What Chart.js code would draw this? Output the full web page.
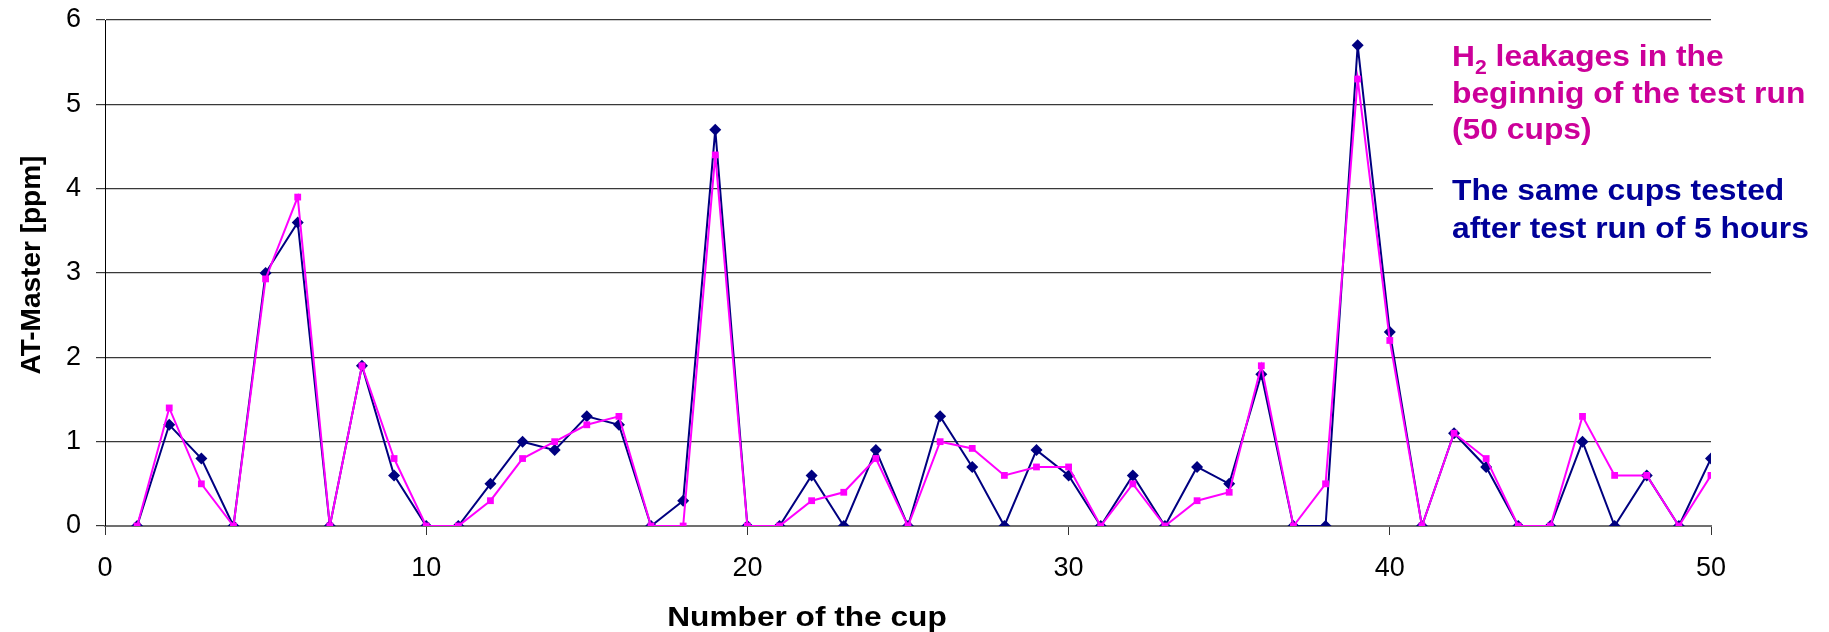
<!DOCTYPE html>
<html>
<head>
<meta charset="utf-8">
<script src="https://cdn.jsdelivr.net/npm/chart.js"></script>
<style>
  html, body { margin: 0; padding: 0; background: #fff; }
  #wrap { width: 1829px; height: 632px; }
</style>
</head>
<body>
<div id="wrap"><canvas id="c" width="1829" height="632"></canvas></div>
<script>
// ---- data ----
const cups = [1,2,3,4,5,6,7,8,9,10,11,12,13,14,15,16,17,18,19,20,21,22,23,24,25,26,27,28,29,30,31,32,33,34,35,36,37,38,39,40,41,42,43,44,45,46,47,48,49,50];
const beginning = [0,1.4,0.5,0,2.93,3.9,0,1.9,0.8,0,0,0.3,0.8,1.0,1.2,1.3,0,0,4.4,0,0,0.3,0.4,0.8,0,1.0,0.92,0.6,0.7,0.7,0,0.5,0,0.3,0.4,1.9,0,0.5,5.3,2.2,0,1.1,0.8,0,0,1.3,0.6,0.6,0,0.6];
const after5h = [0,1.2,0.8,0,3.0,3.6,0,1.9,0.6,0,0,0.5,1.0,0.9,1.3,1.2,0,0.3,4.7,0,0,0.6,0,0.9,0,1.3,0.7,0,0.9,0.6,0,0.6,0,0.7,0.5,1.8,0,0,5.7,2.3,0,1.1,0.7,0,0,1.0,0,0.6,0,0.8];
const xTicks = [0,10,20,30,40,50];
const yTicks = [0,1,2,3,4,5,6];
const xTitle = 'Number of the cup';
const yTitle = 'AT-Master [ppm]';
const legendMagenta = ['H', '2', ' leakages in the', 'beginnig of the test run', '(50 cups)'];
const legendBlue = ['The same cups tested', 'after test run of 5 hours'];

const toPts = (arr) => cups.map((c, i) => ({x: c, y: arr[i]}));

const FONT = '"Liberation Sans", Arial, sans-serif';

const overlay = {
  id: 'overlay',
  afterDraw(chart) {
    const ctx = chart.ctx;
    ctx.save();
    // white box behind the legend text (covers gridlines)
    ctx.fillStyle = '#fff';
    ctx.fillRect(1433, 32, 396, 215);

    ctx.textBaseline = 'alphabetic';
    ctx.textAlign = 'left';
    const sx = 1.06;
    const drawText = (txt, x, y, font, color) => {
      ctx.save();
      ctx.font = font;
      ctx.fillStyle = color;
      ctx.translate(x, y);
      ctx.scale(sx, 1);
      ctx.fillText(txt, 0, 0);
      const w = ctx.measureText(txt).width * sx;
      ctx.restore();
      return w;
    };
    const mag = '#CC0099';
    const blu = '#000099';
    const big = 'bold 30px ' + FONT;
    const small = 'bold 20px ' + FONT;
    let x = 1452;
    x += drawText(legendMagenta[0], x, 66, big, mag);
    x += drawText(legendMagenta[1], x, 74, small, mag);
    drawText(legendMagenta[2], x, 66, big, mag);
    drawText(legendMagenta[3], 1452, 103, big, mag);
    drawText(legendMagenta[4], 1452, 139, big, mag);
    drawText(legendBlue[0], 1452, 200, big, blu);
    drawText(legendBlue[1], 1452, 238, big, blu);

    // x axis title
    ctx.save();
    ctx.font = 'bold 28px ' + FONT;
    ctx.fillStyle = '#000';
    ctx.textAlign = 'center';
    ctx.translate(807, 626);
    ctx.scale(1.13, 1);
    ctx.fillText(xTitle, 0, 0);
    ctx.restore();

    // y axis title
    ctx.save();
    ctx.font = 'bold 28px ' + FONT;
    ctx.fillStyle = '#000';
    ctx.textAlign = 'center';
    ctx.translate(40, 265);
    ctx.rotate(-Math.PI / 2);
    ctx.fillText(yTitle, 0, 0);
    ctx.restore();

    ctx.restore();
  }
};

new Chart(document.getElementById('c'), {
  type: 'scatter',
  data: {
    datasets: [
      {
        label: 'beginning',
        data: toPts(beginning),
        showLine: true,
        borderColor: '#FF00FF',
        backgroundColor: '#FF00FF',
        borderWidth: 2,
        pointStyle: 'rect',
        pointRadius: 4.8,
        pointBorderWidth: 0,
        pointHoverRadius: 4.8
      },
      {
        label: 'after 5 hours',
        data: toPts(after5h),
        showLine: true,
        borderColor: '#000080',
        backgroundColor: '#000080',
        borderWidth: 2,
        pointStyle: 'rectRot',
        pointRadius: 6,
        pointBorderWidth: 0,
        pointHoverRadius: 6
      }
    ]
  },
  options: {
    responsive: false,
    animation: false,
    devicePixelRatio: 1,
    layout: { padding: { top: 20, right: 118, left: 0, bottom: 0 } },
    plugins: {
      legend: { display: false },
      tooltip: { enabled: false }
    },
    scales: {
      x: {
        type: 'linear',
        min: 0, max: 50,
        afterBuildTicks: (s) => { s.ticks = xTicks.map(v => ({value: v})); },
        afterFit: (s) => { s.height = 106; s.paddingLeft = 0; s.paddingRight = 0; },
        border: { display: true, color: '#707070', width: 2 },
        grid: { drawOnChartArea: false, drawTicks: true, tickLength: 9, color: '#333', lineWidth: 1 },
        ticks: { color: '#000', font: { family: FONT, size: 27 }, padding: 17, maxRotation: 0 }
      },
      y: {
        type: 'linear',
        min: 0, max: 6,
        afterBuildTicks: (s) => { s.ticks = yTicks.map(v => ({value: v})); },
        afterFit: (s) => { s.width = 105; s.paddingTop = 0; s.paddingBottom = 0; },
        border: { display: true, color: '#000', width: 1 },
        grid: { drawOnChartArea: true, drawTicks: true, tickLength: 9, color: '#383838', lineWidth: 1.2 },
        ticks: { color: '#000', font: { family: FONT, size: 27 }, padding: 15 }
      }
    }
  },
  plugins: [overlay]
});
</script>
</body>
</html>
